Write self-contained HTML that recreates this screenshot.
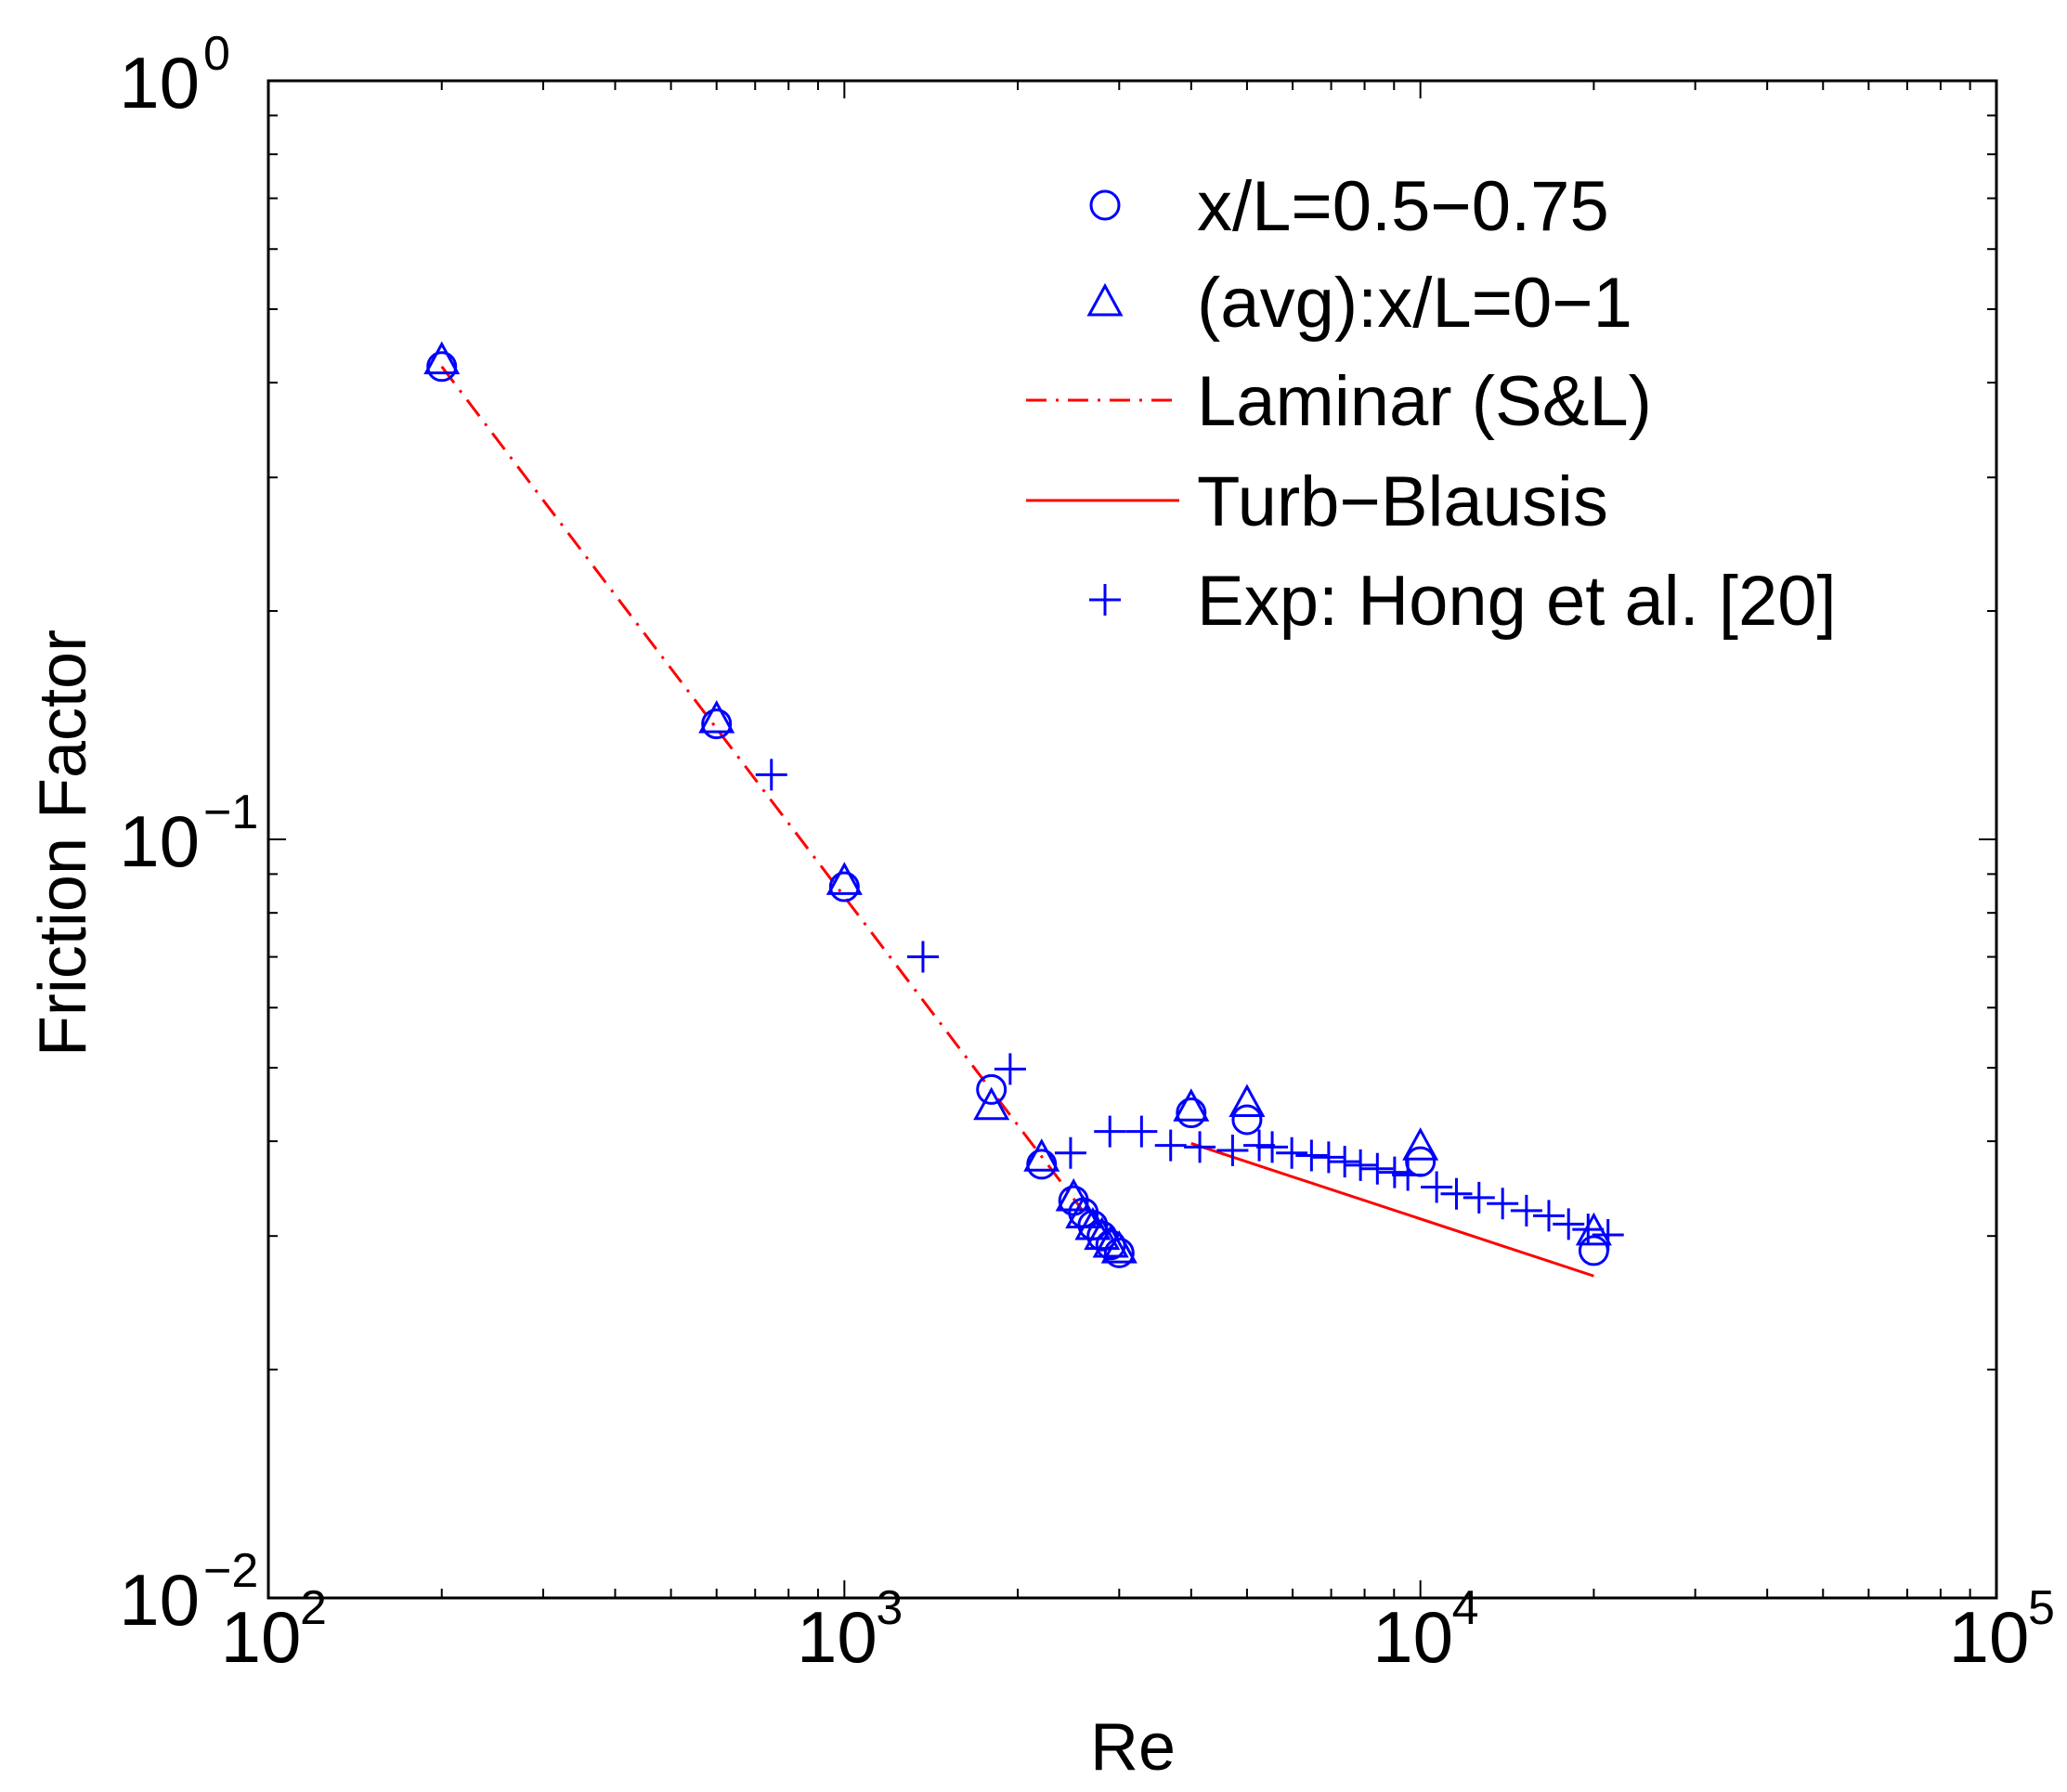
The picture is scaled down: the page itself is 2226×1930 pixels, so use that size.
<!DOCTYPE html>
<html><head><meta charset="utf-8"><style>
html,body{margin:0;padding:0;background:#fff}
svg{display:block;font-family:"Liberation Sans",Arial,sans-serif}
</style></head><body>
<svg id="chart" width="2226" height="1930" viewBox="0 0 2226 1930">
<g id="axes"></g>
<g id="series"></g>
<g id="legend"></g>
</svg>
<script>
const circleRe=[200,600,1000,1800,2200,2500,2600,2700,2800,2900,3000,4000,5000,10000,20000];
const circleF=[0.42,0.142,0.0866,0.0468,0.0373,0.0334,0.0322,0.031,0.030,0.0292,0.0285,0.0436,0.0427,0.0376,0.0287];
const triRe=[200,600,1000,1800,2200,2500,2600,2700,2800,2900,3000,4000,5000,10000,20000];
const triF=[0.425,0.143,0.0875,0.0442,0.0378,0.0335,0.0318,0.0307,0.0298,0.0291,0.0286,0.0440,0.0446,0.0391,0.0302];
const expRe=[747,1369,1940,2470,2890,3280,3685,4140,4720,5250,5530,5980,6470,6930,7390,7870,8420,9020,9510,10670,11550,12640,13890,15280,16710,18080,19550,21170];
const expF=[0.1217,0.070,0.0498,0.0386,0.0412,0.0412,0.0395,0.0393,0.0389,0.0395,0.0393,0.0386,0.0383,0.0381,0.0376,0.0372,0.0368,0.0364,0.0361,0.0348,0.0341,0.0337,0.0331,0.0324,0.0319,0.0311,0.0306,0.0301];
const laminarRe=[200,2600];
const laminarK=[84];
const blasiusRe=[4000,20000];
const xTickExp=[2,3,4,5];
const yTickExp=[0,-1,-2];
const legendLabels=["x/L=0.5\u22120.75","(avg):x/L=0\u22121","Laminar (S&L)","Turb\u2212Blausis","Exp: Hong et al. [20]"];

const L=289,R=2150,T=87,B=1721;
const NS="http://www.w3.org/2000/svg";
const X=v=>L+(Math.log10(v)-2)/3*(R-L);
const Y=v=>T+(0-Math.log10(v))/2*(B-T);
function mk(tag,attrs,parent){const e=document.createElementNS(NS,tag);for(const k in attrs)e.setAttribute(k,attrs[k]);parent.appendChild(e);return e;}
const axes=document.getElementById('axes'),series=document.getElementById('series'),legend=document.getElementById('legend');

for(let d=2;d<5;d++){for(let m=1;m<10;m++){const v=m*Math.pow(10,d);const x=X(v);const len=m===1?19:10;
 if(m===1&&d===2)continue;
 const t1=mk('line',{x1:x,y1:B,x2:x,y2:B-len,stroke:'#000','stroke-width':2},axes);
 
 const t2=mk('line',{x1:x,y1:T,x2:x,y2:T+len,stroke:'#000','stroke-width':2},axes);
 }}
for(let d=-2;d<0;d++){for(let m=1;m<10;m++){const v=m*Math.pow(10,d);const y=Y(v);const len=m===1?19:10;
 if(m===1&&d===-2)continue;
 const t1=mk('line',{x1:L,y1:y,x2:L+len,y2:y,stroke:'#000','stroke-width':2},axes);
 
 const t2=mk('line',{x1:R,y1:y,x2:R-len,y2:y,stroke:'#000','stroke-width':2},axes);
 }}
const frame=mk('rect',{x:L,y:T,width:R-L,height:B-T,fill:'none',stroke:'#000','stroke-width':3},axes);


xTickExp.forEach(e=>{const x=X(Math.pow(10,e));
 const t=mk('text',{x:x-8,y:1790,'font-size':78,'text-anchor':'middle'},axes);t.textContent='10';
 
 const s=mk('text',{x:x+34,y:1749,'font-size':52},axes);s.textContent=String(e);
 });
yTickExp.forEach(e=>{const y=Y(Math.pow(10,e));
 const t=mk('text',{x:215,y:y+29,'font-size':78,'text-anchor':'end'},axes);t.textContent='10';
 
 const s=mk('text',{x:219,y:y-12,'font-size':52},axes);s.textContent=e===0?'0':'\u2212'+(-e);
 });
const xl=mk('text',{x:1220,y:1906,'font-size':72,'text-anchor':'middle'},axes);xl.textContent='Re';

const yl=mk('text',{x:0,y:0,'font-size':72,'text-anchor':'middle',transform:'translate(92,908) rotate(-90)'},axes);yl.textContent='Friction Factor';


const lam=mk('line',{x1:X(laminarRe[0]),y1:Y(laminarK[0]/laminarRe[0]),x2:X(laminarRe[1]),y2:Y(laminarK[0]/laminarRe[1]),stroke:'#f00','stroke-width':3,'stroke-dasharray':'22 10 3 10'},series);

const bl=mk('line',{x1:X(blasiusRe[0]),y1:Y(0.316*Math.pow(blasiusRe[0],-0.25)),x2:X(blasiusRe[1]),y2:Y(0.316*Math.pow(blasiusRe[1],-0.25)),stroke:'#f00','stroke-width':3},series);


function circle(x,y,p){return mk('circle',{cx:x,cy:y,r:15,fill:'none',stroke:'#00f','stroke-width':3},p);}
function tri(x,y,p){return mk('path',{d:`M${x},${y-20}L${x+17},${y+11}L${x-17},${y+11}Z`,fill:'none',stroke:'#00f','stroke-width':3},p);}
function plus(x,y,p){return mk('path',{d:`M${x-17},${y}H${x+17}M${x},${y-17}V${y+17}`,fill:'none',stroke:'#00f','stroke-width':3},p);}

circleRe.forEach((r,i)=>{const c=circle(X(r),Y(circleF[i]),series);
 });
triRe.forEach((r,i)=>{const t=tri(X(r),Y(triF[i]),series);
 });
expRe.forEach((r,i)=>{const p=plus(X(r),Y(expF[i]),series);
 });

const ly=[221,325,431,539,646];
const tx=1289;
let e;
e=circle(1190,ly[0],legend);
e=tri(1190,ly[1]+3,legend);
e=mk('line',{x1:1105,y1:ly[2],x2:1270,y2:ly[2],stroke:'#f00','stroke-width':3,'stroke-dasharray':'22 10 3 10'},legend);
e=mk('line',{x1:1105,y1:ly[3],x2:1270,y2:ly[3],stroke:'#f00','stroke-width':3},legend);
e=plus(1190,ly[4],legend);
legendLabels.forEach((s,i)=>{const t=mk('text',{x:tx,y:ly[i]+27,'font-size':76},legend);t.textContent=s;
 });
</script>
</body></html>
